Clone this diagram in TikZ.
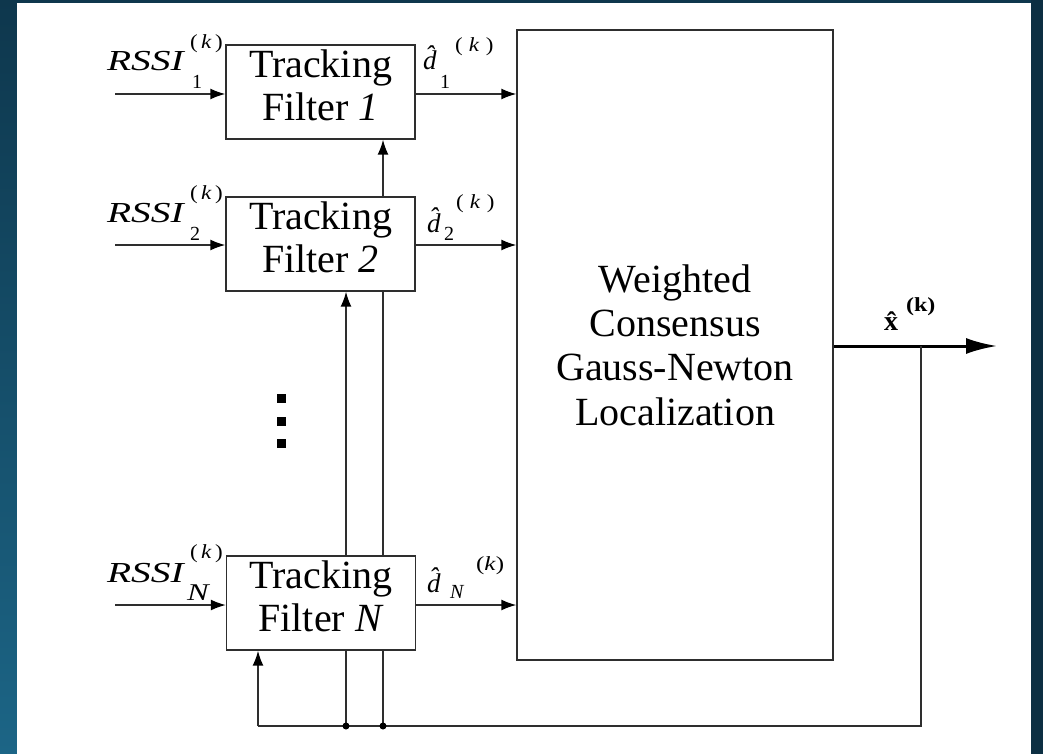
\documentclass[tikz,border=0pt]{standalone}
\usepackage{fontspec}
\setmainfont{Liberation Serif}
\usetikzlibrary{arrows.meta}
\definecolor{bgtop}{HTML}{0E374D}
\definecolor{bgbot}{HTML}{1C6586}
\definecolor{ln}{HTML}{2E2E2E}
\pgfdeclarelayer{back}
\pgfdeclarelayer{mid}
\pgfsetlayers{back,mid,main}
\tikzset{
  fbox/.style={draw=ln, line width=1.4pt, fill=white, minimum width=189pt, minimum height=94pt, inner sep=0pt, align=center, font=\fontsize{40}{43}\selectfont},
  bigbox/.style={draw=ln, line width=1.4pt, fill=white, minimum width=316pt, minimum height=630pt, inner sep=0pt, align=center, font=\fontsize{40}{44.3}\selectfont},
  conn/.style={draw=ln, line width=1.5pt},
  arr/.style={conn, -{Latex[length=15pt,width=11pt,color=black]}},
  bigarr/.style={draw=black, line width=3pt, -{Latex[length=31pt,width=16pt]}},
  lab/.style={anchor=base west, inner sep=0pt, outer sep=0pt},
  rssi/.style={lab, font=\fontsize{29}{30}\selectfont},
  dlab/.style={lab, font=\fontsize{27}{28}\selectfont},
  scr/.style={lab, font=\fontsize{20}{21}\selectfont},
  dotsq/.style={fill=black}
}
\newcommand{\RSSIlab}{\scalebox{1.36}[1]{\textit{RSSI}}}
\newcommand{\kk}[2]{\scalebox{#1}[1]{(\hspace{#2}\textit{k}\hspace{#2})}}
\newcommand{\dn}{\rule[-13pt]{0pt}{13pt}}
\begin{document}
\begin{tikzpicture}[x=1pt,y=-1pt]
\useasboundingbox (0,0) rectangle (1043,754);
\begin{pgfonlayer}{back}
\shade[top color=bgtop,bottom color=bgbot] (0,0) rectangle (1043,754);
\fill[bgtop!85!black] (1031,0) rectangle (1043,754);
\fill[white] (17,3) rectangle (1031,754);
\end{pgfonlayer}

% boxes
\node[fbox] (f1) at (320.5,92) {Tracking\\Filter \textit{1}\dn};
\node[fbox] (f2) at (320.5,244) {Tracking\\Filter \textit{2}\dn};
\node[fbox] (fN) at (321,603) {Tracking\\Filter \textit{N}\dn};
\node[bigbox] (big) at (675,345) {Weighted\\Consensus\\Gauss-Newton\\Localization};

% coordinates
\coordinate (in1) at (115,94);
\coordinate (in2) at (115,245);
\coordinate (inN) at (115,605);
\coordinate (out) at (997,346);
\coordinate (fbtop) at (921,346);
\coordinate (cl) at (258,726);
\coordinate (j1) at (346,726);
\coordinate (j2) at (383,726);

\begin{pgfonlayer}{mid}
\draw[arr] (in1) -- (f1.west |- in1);
\draw[arr] (in2) -- (f2.west |- in2);
\draw[arr] (inN) -- (fN.west |- inN);
\draw[arr] (f1.east |- in1) -- (big.west |- in1);
\draw[arr] (f2.east |- in2) -- (big.west |- in2);
\draw[arr] (fN.east |- inN) -- (big.west |- inN);
\draw[bigarr] (big.east |- out) -- (out);
\draw[conn] (fbtop) |- (cl);
\draw[arr] (cl) -- (cl |- fN.south);
\draw[arr] (j1) -- (j1 |- f2.south);
\draw[arr] (j2) -- (j2 |- f1.south);
\fill[black] (j1) circle (3.5pt);
\fill[black] (j2) circle (3.5pt);
\end{pgfonlayer}

% vertical dots
\fill[dotsq] (277,394) rectangle (286,403);
\fill[dotsq] (277,417) rectangle (286,426);
\fill[dotsq] (277,439) rectangle (286,448);

% row 1 labels
\node[rssi] (r1) at (107,71) {\RSSIlab};
\node[scr] (r1s) at (192,89) {1};
\node[scr] (r1k) at (190,49) {\kk{1.15}{3pt}};
\node[dlab] (d1) at (423,70) {\textit{\^{d}}};
\node[scr] (d1s) at (440,89) {1};
\node[scr] (d1k) at (455,52) {\kk{1.15}{5.5pt}};

% row 2 labels
\node[rssi] (r2) at (107,222) {\RSSIlab};
\node[scr] (r2s) at (190,240) {2};
\node[scr] (r2k) at (190,199) {\kk{1.15}{3pt}};
\node[dlab] (d2) at (427,232) {\textit{\^{d}}};
\node[scr] (d2s) at (444,240) {2};
\node[scr] (d2k) at (456,208) {\kk{1.15}{5.5pt}};

% row N labels
\node[rssi] (rN) at (107,582) {\RSSIlab};
\node[lab, font=\fontsize{24}{25}\selectfont] (rNs) at (187,600) {\scalebox{1.35}[1]{\textit{N}}};
\node[scr] (rNk) at (190,558) {\kk{1.15}{3pt}};
\node[dlab] (dN) at (427,592) {\textit{\^{d}}};
\node[scr] (dNs) at (450,598) {\textit{N}};
\node[scr] (dNk) at (476,570) {\kk{1.25}{0pt}};

% output label
\node[lab, font=\fontsize{28}{29}\selectfont\bfseries] (xh) at (884,330) {\^{x}};
\node[lab, font=\fontsize{20}{21}\selectfont\bfseries] (xk) at (906,311) {\scalebox{1.2}[1]{(k)}};
\end{tikzpicture}
\end{document}
